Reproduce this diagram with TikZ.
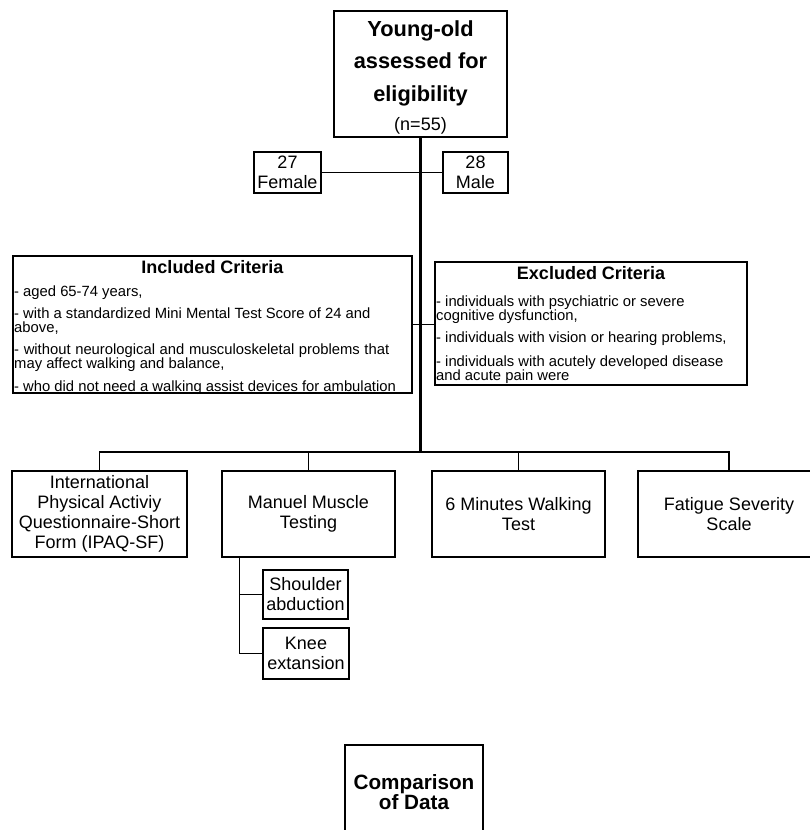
\documentclass[tikz,border=0pt]{standalone}
\usepackage{fontspec}
\setmainfont{Liberation Sans}
\usetikzlibrary{calc}
\begin{document}
\begin{tikzpicture}[x=1pt,y=-1pt,
  box/.style={draw=black, line width=1.4pt, rectangle, inner sep=0pt},
  txt/.style={font=\fontsize{18}{20}\selectfont, align=center},
  conn/.style={draw=black, line width=1.3pt},
  trunk/.style={draw=black, line width=2.4pt},
  plain/.style={inner sep=0pt}]
\useasboundingbox (0,0) rectangle (810,830);
\fill[white] (0,0) rectangle (810,830);

% top box
\node[box, minimum width=173pt, minimum height=126pt] (top) at (420.5,74) {};
\node[plain, anchor=base] (toptext) at (420.5,36) {\parbox[t]{170pt}{\centering\lineskiplimit=-50pt
  {\bfseries\fontsize{21.8}{32.5}\selectfont Young-old\\assessed for\\eligibility\par}
  {\fontsize{18}{29}\selectfont (n=55)\par}}};

% female / male
\node[box, txt, minimum width=67pt, minimum height=41pt] (fem) at (287.5,172.5) {27\\Female};
\node[box, txt, minimum width=65pt, minimum height=41pt] (male) at (475.5,172.5) {28\\Male};

% included criteria
\node[box, minimum width=399pt, minimum height=137pt] (inc) at (212.5,324.5) {};
\node[plain, anchor=base, font=\bfseries\fontsize{18}{20}\selectfont] (inctitle) at (212.5,273.5) {Included Criteria};
\node[plain, anchor=base west] (incbody) at (14,296) {\parbox[t]{395pt}{\fontsize{14.8}{14.5}\selectfont\raggedright\lineskiplimit=-50pt
- aged 65-74 years,\\[7.5pt]
- with a standardized Mini Mental Test Score of 24 and\\
above,\\[7pt]
\makebox[375pt][s]{- without neurological and musculoskeletal problems that}\\
may affect walking and balance,\\[8.5pt]
- who did not need a walking assist devices for ambulation}};

% excluded criteria
\node[box, minimum width=312pt, minimum height=123pt] (exc) at (591,323.5) {};
\node[plain, anchor=base, font=\bfseries\fontsize{18}{20}\selectfont] (exctitle) at (591,279.5) {Excluded Criteria};
\node[plain, anchor=base west] (excbody) at (436,306) {\parbox[t]{305pt}{\fontsize{14.8}{14}\selectfont\raggedright\lineskiplimit=-50pt
- individuals with psychiatric or severe\\
cognitive dysfunction,\\[8pt]
- individuals with vision or hearing problems,\\[10pt]
- individuals with acutely developed disease\\
and acute pain were}};

% bottom boxes
\node[box, txt, minimum width=175pt, minimum height=86pt] (ipaq) at (99.5,514) {International\\Physical Activiy\\Questionnaire-Short\\Form (IPAQ-SF)};
\node[box, txt, minimum width=173pt, minimum height=86pt] (mmt) at (308.5,514) {Manuel Muscle\\Testing};
\node[box, txt, minimum width=173pt, minimum height=86pt] (mwt) at (518.5,514) {6 Minutes Walking\\Test};
\node[box, txt, minimum width=182pt, minimum height=86pt] (fss) at (729,514) {Fatigue Severity\\Scale};

% sub boxes
\node[box, txt, minimum width=85pt, minimum height=49pt] (shoulder) at (305.5,594.5) {Shoulder\\abduction};
\node[box, txt, minimum width=86pt, minimum height=51pt] (knee) at (306,653.5) {Knee\\extansion};

% comparison
\node[box, align=center, minimum width=138pt, minimum height=94pt, font=\bfseries\fontsize{20.7}{20}\selectfont] (cmp) at (414,792) {Comparison\\of Data};

% connectors
\coordinate (bus) at (420.5,452);
\draw[trunk] (top.south) -- (bus);
\draw[conn] (fem.east) -- (male.west);
\draw[conn] (inc.east) -- (inc.east -| exc.west);
\draw[conn] (ipaq.north) |- (bus) -| (fss.north);
\draw[conn] (mmt.north) -- (mmt.north |- bus);
\draw[conn] (mwt.north) -- (mwt.north |- bus);
\coordinate (stem) at ($(mmt.south west)+(18,0)$);
\draw[conn] (stem) |- (knee.west);
\draw[conn] (stem |- shoulder.west) -- (shoulder.west);
\end{tikzpicture}
\end{document}
